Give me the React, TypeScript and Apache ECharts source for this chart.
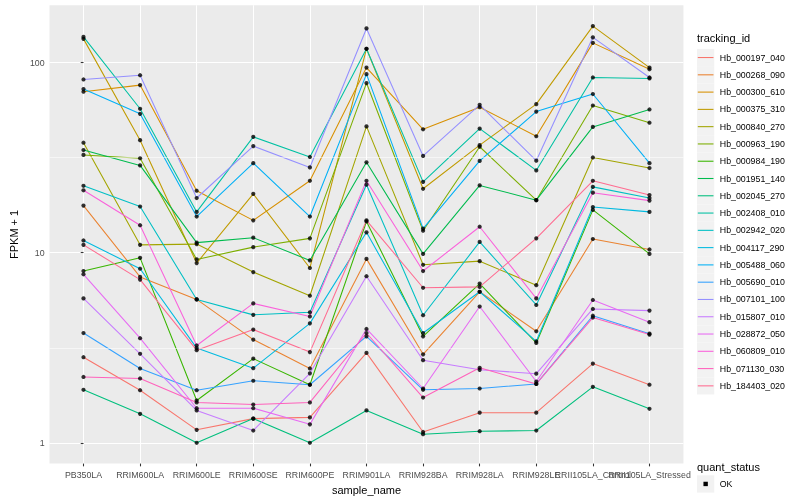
import React, { useEffect, useRef } from "react";
import * as echarts from "echarts";

const categories = [
  "PB350LA", "RRIM600LA", "RRIM600LE", "RRIM600SE", "RRIM600PE", "RRIM901LA",
  "RRIM928BA", "RRIM928LA", "RRIM928LE", "RRII105LA_Control", "RRII105LA_Stressed",
];

const trackingIds = [
  "Hb_000197_040", "Hb_000268_090", "Hb_000300_610", "Hb_000375_310", "Hb_000840_270",
  "Hb_000963_190", "Hb_000984_190", "Hb_001951_140", "Hb_002045_270", "Hb_002408_010",
  "Hb_002942_020", "Hb_004117_290", "Hb_005488_060", "Hb_005690_010", "Hb_007101_100",
  "Hb_015807_010", "Hb_028872_050", "Hb_060809_010", "Hb_071130_030", "Hb_184403_020",
];

const colors = [
  "#F8766D", "#EA8331", "#D89000", "#C09B00", "#A3A500", "#7CAE00", "#39B600", "#00BB4E",
  "#00BF7D", "#00C1A3", "#00BFC4", "#00BAE0", "#00B0F6", "#35A2FF", "#9590FF", "#C77CFF",
  "#E76BF3", "#FA62DB", "#FF62BC", "#FF6C91",
];

// FPKM + 1 per sample (same order as categories)
const hb000197_040 = [2.82, 1.89, 1.17, 1.34, 1.36, 2.97, 1.14, 1.44, 1.44, 2.61, 2.02];
const hb000268_090 = [17.7, 7.46, 5.68, 3.49, 2.46, 9.28, 2.92, 6.23, 3.86, 11.8, 10.4];
const hb000300_610 = [70.3, 76.2, 21.2, 14.8, 23.9, 94.2, 44.6, 58.3, 41.0, 127.1, 92.3];
const hb000375_310 = [133.4, 39.1, 8.82, 20.4, 8.31, 118.3, 21.7, 36.8, 60.5, 155.8, 94.2];
const hb000840_270 = [37.9, 11.0, 11.1, 7.91, 5.94, 46.2, 8.64, 9.03, 6.75, 31.7, 27.9];
const hb000963_190 = [32.7, 31.4, 9.22, 10.7, 11.9, 78.1, 13.05, 36.1, 18.9, 59.5, 48.3];
const hb000984_190 = [8.01, 9.4, 1.67, 2.77, 2.02, 14.6, 3.63, 6.88, 3.35, 16.8, 9.86];
const hb001951_140 = [34.7, 28.8, 11.3, 12.0, 9.11, 29.9, 9.86, 22.6, 18.9, 45.9, 56.7];
const hb002045_270 = [1.9, 1.42, 1.0, 1.34, 1.0, 1.48, 1.11, 1.15, 1.16, 1.97, 1.51];
const hb002408_010 = [136.6, 57.2, 16.4, 40.7, 31.9, 118.3, 23.6, 45.0, 27.1, 83.6, 82.6];
const hb002942_020 = [22.5, 17.5, 5.68, 4.71, 4.86, 22.8, 4.69, 11.4, 5.31, 22.2, 19.4];
const hb004117_290 = [11.6, 8.24, 3.15, 2.47, 4.25, 12.8, 3.78, 6.23, 3.42, 17.4, 16.4];
const hb005488_060 = [72.6, 53.8, 15.5, 29.6, 15.5, 87.0, 13.4, 30.4, 55.3, 68.4, 29.6];
const hb005690_010 = [3.78, 2.46, 1.89, 2.12, 2.02, 3.63, 1.9, 1.93, 2.04, 4.66, 3.75];
const hb007101_100 = [81.6, 85.9, 19.4, 36.4, 28.1, 151.4, 32.3, 60.0, 30.5, 135.9, 83.6];
const hb015807_010 = [5.75, 2.94, 1.48, 1.16, 2.32, 7.52, 2.72, 2.42, 2.31, 5.06, 4.96];
const hb028872_050 = [7.7, 3.55, 1.52, 1.52, 1.25, 3.97, 1.93, 5.21, 2.1, 5.64, 4.31];
const hb060809_010 = [21.3, 13.95, 3.25, 5.41, 4.62, 23.9, 8.01, 13.7, 5.75, 20.7, 18.8];
const hb071130_030 = [2.22, 2.18, 1.63, 1.59, 1.63, 3.78, 1.73, 2.48, 2.04, 4.56, 3.71];
const hb184403_020 = [11.0, 7.22, 3.07, 3.94, 3.0, 14.8, 6.54, 6.61, 11.9, 23.9, 20.1];

const seriesValues = [
  hb000197_040, hb000268_090, hb000300_610, hb000375_310, hb000840_270,
  hb000963_190, hb000984_190, hb001951_140, hb002045_270, hb002408_010,
  hb002942_020, hb004117_290, hb005488_060, hb005690_010, hb007101_100,
  hb015807_010, hb028872_050, hb060809_010, hb071130_030, hb184403_020,
];

const quantStatus = ["OK"];
const yBreaks = [1, 10, 100];
const yMinorBreaks = [3.1623, 31.623];
const yLimits = [0.777, 200.6];

export default function App() {
  const ref = useRef<HTMLDivElement>(null);

  useEffect(() => {
    if (!ref.current) return;
    const chart = echarts.init(ref.current, null, { renderer: "svg" });
    const font = "'Liberation Sans', Arial, Helvetica, sans-serif";
    const catIdx = categories.map((_, i) => i);
    const evenIdx = catIdx.filter((i) => i % 2 === 0);
    const oddIdx = catIdx.filter((i) => i % 2 === 1);

    const lineSeries = trackingIds.map((id, i) => ({
      type: "line",
      name: id,
      data: seriesValues[i].map((v, j) => [j, v]),
      symbol: "none",
      showSymbol: false,
      silent: true,
      z: 2,
      lineStyle: { color: colors[i], width: 1.07 },
      itemStyle: { color: colors[i] },
    }));

    const points: number[][] = [];
    seriesValues.forEach((arr) => arr.forEach((v, j) => points.push([j, v])));

    const minorGrid = {
      type: "line",
      data: [[0, 1]],
      symbol: "none",
      showSymbol: false,
      silent: true,
      z: 1,
      lineStyle: { opacity: 0 },
      markLine: {
        silent: true,
        symbol: ["none", "none"],
        label: { show: false },
        lineStyle: { color: "#ffffff", width: 0.55, type: "solid" },
        emphasis: { disabled: true },
        data: yMinorBreaks.map((v) => ({ yAxis: v })),
      },
    };

    const legendX = 697;
    const keyH = 17.28;
    const keyTop = 48.9;
    const graphics: any[] = [
      {
        type: "text",
        left: legendX,
        top: 32,
        style: { text: "tracking_id", font: `11px ${font}`, fill: "#000" },
      },
    ];
    trackingIds.forEach((id, i) => {
      const y = keyTop + i * keyH;
      graphics.push({
        type: "rect",
        shape: { x: legendX, y, width: keyH, height: keyH },
        style: { fill: "#F2F2F2", lineWidth: 0 },
      });
      graphics.push({
        type: "line",
        shape: { x1: legendX + 0.8, y1: y + keyH / 2, x2: legendX + keyH - 0.8, y2: y + keyH / 2 },
        style: { stroke: colors[i], lineWidth: 1.07 },
      });
      graphics.push({
        type: "text",
        x: legendX + keyH + 5.5,
        y: y + keyH / 2,
        style: { text: id, font: `8.8px ${font}`, fill: "#000", verticalAlign: "middle" },
      });
    });
    const qTop = 467;
    graphics.push({
      type: "text",
      x: legendX,
      y: qTop,
      style: { text: "quant_status", font: `11px ${font}`, fill: "#000", verticalAlign: "middle" },
    });
    quantStatus.forEach((q, i) => {
      const y = qTop + 8.3 + i * keyH;
      graphics.push({
        type: "rect",
        shape: { x: legendX, y, width: keyH, height: keyH },
        style: { fill: "#F2F2F2" },
      });
      graphics.push({
        type: "rect",
        shape: { x: legendX + keyH / 2 - 2.2, y: y + keyH / 2 - 2.2, width: 4.4, height: 4.4 },
        style: { fill: "#000" },
      });
      graphics.push({
        type: "text",
        x: legendX + keyH + 5.5,
        y: y + keyH / 2,
        style: { text: q, font: `8.8px ${font}`, fill: "#000", verticalAlign: "middle" },
      });
    });

    const labelStyle = {
      margin: 6.5,
      fontSize: 8.8,
      color: "#4D4D4D",
      fontFamily: font,
      hideOverlap: false,
      formatter: (v: number) => categories[Math.round(v)] ?? "",
    };

    chart.setOption({
      animation: false,
      textStyle: { fontFamily: font },
      grid: {
        left: 40.24,
        top: 5.2,
        width: 643.2,
        height: 463.6,
        show: true,
        backgroundColor: "#EBEBEB",
        borderWidth: 0,
        containLabel: false,
      },
      xAxis: [
        {
          type: "value",
          position: "bottom",
          min: -0.6,
          max: 10.6,
          name: "sample_name",
          nameLocation: "middle",
          nameGap: 13,
          nameTextStyle: { fontSize: 11, color: "#000", fontFamily: font },
          axisLine: { show: false },
          axisTick: {
            show: true,
            length: 2.75,
            customValues: catIdx,
            lineStyle: { color: "#333333", width: 1.07 },
          },
          axisLabel: { ...labelStyle, customValues: evenIdx },
          splitLine: { show: true, lineStyle: { color: "#ffffff", width: 1.07 } },
        },
        {
          type: "value",
          position: "bottom",
          offset: 0,
          min: -0.6,
          max: 10.6,
          axisLine: { show: false },
          axisTick: { show: false, customValues: oddIdx },
          axisLabel: { ...labelStyle, customValues: oddIdx },
          splitLine: { show: false },
        },
      ],
      yAxis: {
        type: "log",
        logBase: 10,
        min: yLimits[0],
        max: yLimits[1],
        name: "FPKM + 1",
        nameLocation: "middle",
        nameGap: 26,
        nameTextStyle: { fontSize: 11, color: "#000", fontFamily: font },
        axisLine: { show: false },
        axisTick: {
          show: true,
          length: 2.75,
          customValues: yBreaks,
          lineStyle: { color: "#333333", width: 1.07 },
        },
        axisLabel: {
          customValues: yBreaks,
          margin: 4.95,
          fontSize: 8.8,
          color: "#4D4D4D",
          fontFamily: font,
          formatter: (v: number) => String(Math.round(v)),
        },
        splitLine: { show: true, lineStyle: { color: "#ffffff", width: 1.07 } },
        minorSplitLine: { show: false },
      },
      graphic: graphics,
      series: [
        minorGrid,
        ...lineSeries,
        {
          type: "scatter",
          name: "quant_status",
          data: points,
          symbol: "circle",
          symbolSize: 4.2,
          silent: true,
          z: 5,
          itemStyle: { color: "#000000" },
        },
      ],
    } as any);

    return () => chart.dispose();
  }, []);

  return (
    <div
      ref={ref}
      style={{ position: "fixed", left: 0, top: 0, width: 800, height: 500 }}
    />
  );
}
